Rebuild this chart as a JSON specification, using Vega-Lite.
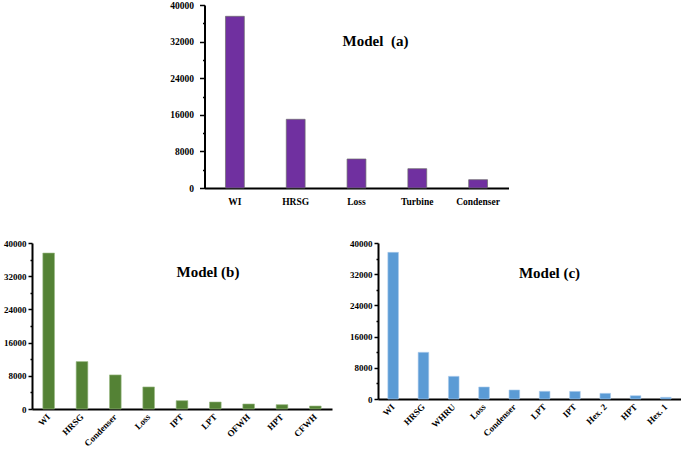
{
  "$schema": "https://vega.github.io/schema/vega-lite/v6.json",
  "padding": {"left": 3, "top": 0, "right": 0, "bottom": 0},
  "background": "white",
  "datasets": {
    "a": [
      {"item": "WI", "value": 37530},
      {"item": "HRSG", "value": 15020},
      {"item": "Loss", "value": 6340},
      {"item": "Turbine", "value": 4220},
      {"item": "Condenser", "value": 1820}
    ],
    "b": [
      {"item": "WI", "value": 37580},
      {"item": "HRSG", "value": 11430},
      {"item": "Condenser", "value": 8210},
      {"item": "Loss", "value": 5310},
      {"item": "IPT", "value": 2010},
      {"item": "LPT", "value": 1690},
      {"item": "OFWH", "value": 1210},
      {"item": "HPT", "value": 1050},
      {"item": "CFWH", "value": 720}
    ],
    "c": [
      {"item": "WI", "value": 37600},
      {"item": "HRSG", "value": 11970},
      {"item": "WHRU", "value": 5810},
      {"item": "Loss", "value": 3080},
      {"item": "Condenser", "value": 2310},
      {"item": "LPT", "value": 1970},
      {"item": "IPT", "value": 1950},
      {"item": "Hex. 2", "value": 1450},
      {"item": "HPT", "value": 860},
      {"item": "Hex. 1", "value": 430}
    ]
  },
  "vconcat": [
    {
      "width": 304,
      "height": 183,
      "data": {"name": "a"},
      "title": {"text": "Model\u00a0\u00a0(a)", "dy": 53, "dx": 19},
      "mark": {"type": "bar", "color": "#7030A0", "stroke": "#6b6b6b", "strokeWidth": 0.7},
      "encoding": {
        "x": {"field": "item", "type": "nominal", "sort": null,
              "scale": {"paddingInner": 0.69},
              "axis": {"labelAngle": 0, "labelPadding": 8, "ticks": false, "labelFontSize": 9.5}},
        "y": {"field": "value", "type": "quantitative",
              "scale": {"domain": [0, 40000], "nice": false},
              "axis": {"values": [0,4000,8000,12000,16000,20000,24000,28000,32000,36000,40000],
                       "format": "d",
                       "labelExpr": "datum.value % 8000 == 0 ? datum.label : ''",
                       "tickSize": {"condition": {"test": "datum.value % 8000 != 0", "value": 2}, "value": 5},
                       "labelFontSize": 9.5, "labelPadding": 6}}
      }
    },
    {
      "hconcat": [
        {
          "width": 300,
          "height": 166,
          "data": {"name": "b"},
          "title": {"text": "Model (b)", "dy": 45, "dx": 26},
          "mark": {"type": "bar", "color": "#548235", "stroke": "#9bbb85", "strokeWidth": 0.6},
          "encoding": {
            "x": {"field": "item", "type": "nominal", "sort": null,
                  "scale": {"paddingInner": 0.65},
                  "axis": {"labelAngle": -45, "labelBaseline": "middle", "labelPadding": 6, "ticks": false, "labelFontSize": 9}},
            "y": {"field": "value", "type": "quantitative",
                  "scale": {"domain": [0, 40000], "nice": false},
                  "axis": {"values": [0,4000,8000,12000,16000,20000,24000,28000,32000,36000,40000],
                           "format": "d",
                           "labelExpr": "datum.value % 8000 == 0 ? datum.label : ''",
                           "tickSize": {"condition": {"test": "datum.value % 8000 != 0", "value": 2}, "value": 4},
                           "labelFontSize": 9, "labelPadding": 2}}
          }
        },
        {
          "width": 303,
          "height": 156,
          "data": {"name": "c"},
          "title": {"text": "Model (c)", "dy": 46, "dx": 20},
          "mark": {"type": "bar", "color": "#5B9BD5", "stroke": "#a9cbec", "strokeWidth": 0.6},
          "encoding": {
            "x": {"field": "item", "type": "nominal", "sort": null,
                  "scale": {"paddingInner": 0.65},
                  "axis": {"labelAngle": -45, "labelBaseline": "middle", "labelPadding": 6, "ticks": false, "labelFontSize": 9}},
            "y": {"field": "value", "type": "quantitative",
                  "scale": {"domain": [0, 40000], "nice": false},
                  "axis": {"values": [0,4000,8000,12000,16000,20000,24000,28000,32000,36000,40000],
                           "format": "d",
                           "labelExpr": "datum.value % 8000 == 0 ? datum.label : ''",
                           "tickSize": {"condition": {"test": "datum.value % 8000 != 0", "value": 2}, "value": 4},
                           "labelFontSize": 9, "labelPadding": 2}}
          }
        }
      ],
      "spacing": 17
    }
  ],
  "center": true,
  "spacing": 33,
  "config": {
    "view": {"stroke": null},
    "axis": {
      "labelFont": "Liberation Serif",
      "labelFontWeight": "bold",
      "labelColor": "black",
      "domainColor": "black",
      "domainWidth": 2,
      "tickColor": "black",
      "tickWidth": 1.5,
      "grid": false,
      "title": null
    },
    "title": {
      "font": "Liberation Serif",
      "fontWeight": "bold",
      "fontSize": 15,
      "color": "black",
      "anchor": "middle",
      "frame": "group"
    }
  }
}
